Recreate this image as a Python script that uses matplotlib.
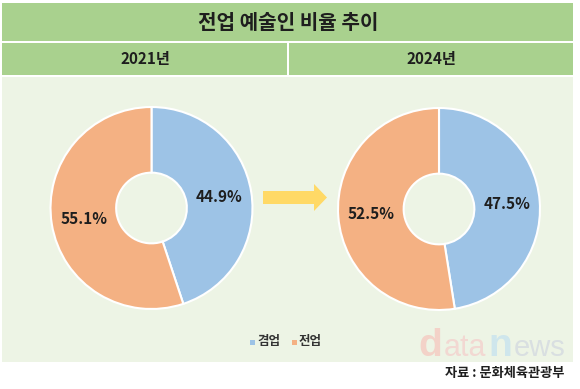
import matplotlib
matplotlib.use("Agg")
import matplotlib.pyplot as plt
from matplotlib import patches

plt.rcParams['font.family'] = ['Noto Sans CJK KR', 'DejaVu Sans']

# 데이터
title = '전업 예술인 비율 추이'
years = ['2021년', '2024년']
kinds = ['겸업', '전업']
share_2021 = [44.9, 55.1]
share_2024 = [47.5, 52.5]
source = '자료 : 문화체육관광부'

blue = '#9DC3E6'
orange = '#F4B183'
head_green = '#A9D18E'
panel_green = '#EDF4E5'
ink = '#1E1E1E'

W, H = 580, 389
fig = plt.figure(figsize=(W / 100, H / 100), dpi=100)
fig.patch.set_facecolor('white')

# 배경 (픽셀 좌표)
bg = fig.add_axes([0, 0, 1, 1])
bg.set_xlim(0, W)
bg.set_ylim(H, 0)
bg.axis('off')

bg.add_patch(patches.Rectangle((2, 3), 571, 38, color=head_green, lw=0))
bg.add_patch(patches.Rectangle((2, 43), 285, 32, color=head_green, lw=0))
bg.add_patch(patches.Rectangle((289, 43), 284, 32, color=head_green, lw=0))
bg.add_patch(patches.Rectangle((2, 77), 571, 285, color=panel_green, lw=0))

bg.text(288, 22, title, ha='center', va='center', fontsize=14.5,
        fontweight='bold', color=ink)
for x, yr in zip([145, 431], years):
    bg.text(x, 59, yr, ha='center', va='center', fontsize=11,
            fontweight='bold', color=ink)

# 화살표
bg.add_patch(patches.FancyArrow(263, 197.5, 64, 0, width=13, head_width=27,
                                head_length=13, length_includes_head=True,
                                color='#FFD966', lw=0))

# 범례
for x, lab, c in zip([253, 295], kinds, [blue, orange]):
    bg.add_patch(patches.Rectangle((x - 3, 339.5), 5, 5, color=c, lw=0))
    bg.text(x + 4, 342, lab, ha='left', va='center', fontsize=9,
            fontweight='bold', color='#333333')

# 워터마크
wm = [('d', 418, 28, '#F3D2C8', 'bold'), ('ata', 444, 22, '#F2D8D2', 'normal'),
      ('n', 488, 28, '#CFE6EC', 'bold'), ('ews', 514, 21, '#D9DFE1', 'normal')]
for s, x, fs, c, fw in wm:
    bg.text(x, 356, s, ha='left', va='baseline', fontsize=fs,
            family='Liberation Sans', color=c, fontweight=fw)

bg.text(564, 373, source, ha='right', va='center', fontsize=9.5,
        fontweight='bold', color=ink)

# 도넛
centers = [(151.5, 208), (439, 209)]
r = 102
for (cx, cy), vals in zip(centers, [share_2021, share_2024]):
    ax = fig.add_axes([(cx - r) / W, (H - cy - r) / H, 2 * r / W, 2 * r / H])
    ax.patch.set_alpha(0)
    wedges, texts, autotexts = ax.pie(
        vals, colors=[blue, orange], startangle=90, counterclock=False,
        autopct='%.1f%%', pctdistance=0.675,
        wedgeprops=dict(width=0.65, edgecolor='white', linewidth=1.5))
    for t in autotexts:
        t.set_fontsize(11)
        t.set_color(ink)
        t.set_fontweight('bold')
    ax.set_xlim(-1.01, 1.01)
    ax.set_ylim(-1.01, 1.01)

fig.savefig('out.png', dpi=100, facecolor='white')
